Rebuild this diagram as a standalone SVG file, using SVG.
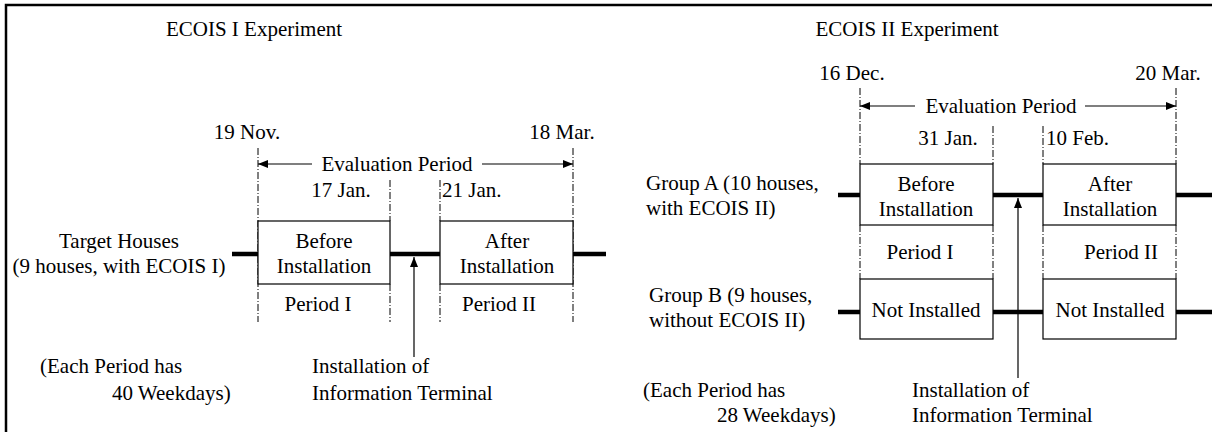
<svg xmlns="http://www.w3.org/2000/svg" width="1212" height="432" viewBox="0 0 1212 432">
<defs>
<marker id="ah" viewBox="0 0 10 10" refX="10" refY="5" markerWidth="10" markerHeight="10" markerUnits="userSpaceOnUse" orient="auto">
<path d="M0,1 L10,5 L0,9 Z" fill="#000"/>
</marker>
<style>
text{font-family:"Liberation Serif","Times New Roman",serif;font-size:21px;fill:#000}
.c{text-anchor:middle}
.box{fill:#fff;stroke:#000;stroke-width:1.2}
.tl{stroke:#000;stroke-width:4.5;fill:none}
.dd{stroke:#000;stroke-width:1;stroke-dasharray:7 2 1 2;fill:none}
.ar{stroke:#000;stroke-width:1.2;fill:none;marker-end:url(#ah)}
.fr{stroke:#000;stroke-width:2.5;fill:none}
</style>
</defs>
<rect width="1212" height="432" fill="#fff"/>
<g id="frame">
<path class="fr" d="M6,432 V5 H1212"/>
</g>
<g id="titles">
<text class="c" x="254" y="36">ECOIS I Experiment</text>
<text class="c" x="907" y="36">ECOIS II Experiment</text>
</g>
<g id="connectors">
<path class="dd" d="M258,148 V322 M573,148 V322 M390,180 V221 M440,180 V221 M390,284 V322 M440,284 V322"/>
<path class="ar" d="M312,164 H258"/>
<path class="ar" d="M482,164 H573"/>
<path class="tl" d="M232,254 H258 M390,254 H440 M573,254 H606"/>
<path class="ar" d="M414,357 V257"/>
<path class="dd" d="M860,88 V164 M1176,88 V164 M993,126 V164 M1043,126 V164 M860,225 V279 M1176,225 V279 M993,225 V279 M1043,225 V279"/>
<path class="ar" d="M915,106 H860"/>
<path class="ar" d="M1085,106 H1176"/>
<path class="tl" d="M838,195 H860 M993,195 H1043 M1176,195 H1212"/>
<path class="tl" d="M838,312 H860 M993,312 H1043 M1176,312 H1212"/>
<path class="ar" d="M1018,378 V198"/>
</g>
<g id="left-labels">
<text class="c" x="247" y="139">19 Nov.</text>
<text class="c" x="562" y="139">18 Mar.</text>
<text class="c" x="397" y="171">Evaluation Period</text>
<text class="c" x="341" y="197">17 Jan.</text>
<text x="442" y="197">21 Jan.</text>
<text class="c" x="119" y="248">Target Houses</text>
<text class="c" x="119" y="273">(9 houses, with ECOIS I)</text>
<text class="c" x="318" y="311">Period I</text>
<text class="c" x="499" y="311">Period II</text>
<text x="40" y="373">(Each Period has</text>
<text x="112" y="400">40 Weekdays)</text>
<text x="312" y="373">Installation of</text>
<text x="312" y="400">Information Terminal</text>
</g>
<g id="box-before-1">
<rect class="box" x="258" y="221" width="132" height="63"/>
<text class="c" x="324" y="248">Before</text>
<text class="c" x="324" y="273">Installation</text>
</g>
<g id="box-after-1">
<rect class="box" x="440" y="221" width="133" height="63"/>
<text class="c" x="507" y="248">After</text>
<text class="c" x="507" y="273">Installation</text>
</g>
<g id="right-labels">
<text class="c" x="852" y="80">16 Dec.</text>
<text class="c" x="1168" y="80">20 Mar.</text>
<text class="c" x="1001" y="113">Evaluation Period</text>
<text class="c" x="948" y="145">31 Jan.</text>
<text x="1046" y="145">10 Feb.</text>
<text x="646" y="190">Group A (10 houses,</text>
<text x="646" y="215">with ECOIS II)</text>
<text class="c" x="920" y="259">Period I</text>
<text class="c" x="1121" y="259">Period II</text>
<text x="649" y="302">Group B (9 houses,</text>
<text x="649" y="327">without ECOIS II)</text>
<text x="643" y="397">(Each Period has</text>
<text x="717" y="422">28 Weekdays)</text>
<text x="912" y="397">Installation of</text>
<text x="912" y="422">Information Terminal</text>
</g>
<g id="box-before-2">
<rect class="box" x="860" y="164" width="133" height="61"/>
<text class="c" x="926" y="191">Before</text>
<text class="c" x="926" y="216">Installation</text>
</g>
<g id="box-after-2">
<rect class="box" x="1043" y="164" width="133" height="61"/>
<text class="c" x="1110" y="191">After</text>
<text class="c" x="1110" y="216">Installation</text>
</g>
<g id="box-notinst-1">
<rect class="box" x="860" y="279" width="133" height="60"/>
<text class="c" x="926" y="317">Not Installed</text>
</g>
<g id="box-notinst-2">
<rect class="box" x="1043" y="279" width="133" height="60"/>
<text class="c" x="1110" y="317">Not Installed</text>
</g>
</svg>
